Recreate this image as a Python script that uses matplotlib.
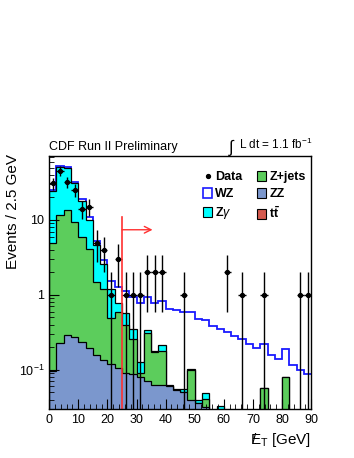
import numpy as np
import matplotlib.pyplot as plt
from matplotlib.patches import Patch
from matplotlib.lines import Line2D
from matplotlib.ticker import FixedLocator, FuncFormatter, MultipleLocator, LogLocator

plt.rcParams['font.family'] = ['Liberation Sans', 'DejaVu Sans']
plt.rcParams['mathtext.fontset'] = 'custom'
plt.rcParams['mathtext.rm'] = 'Liberation Sans'
plt.rcParams['mathtext.it'] = 'Liberation Sans:italic'
plt.rcParams['mathtext.bf'] = 'Liberation Sans:bold'

# missing ET, 2.5 GeV bins from 0 to 90
edges = np.arange(0, 92.5, 2.5)
data = [31, 45, 32, 25, 14, 15, 5, 4, 1, 3, 1, 1, 1, 2, 2, 2, 0, 0,
        1, 0, 0, 0, 0, 0, 2, 0, 1, 0, 0, 1, 0, 0, 0, 0, 1, 1]
zz = [0.097, 0.227, 0.293, 0.275, 0.234, 0.195, 0.158, 0.136, 0.119, 0.105,
      0.092, 0.089, 0.079, 0.071, 0.063, 0.063, 0.060, 0.054, 0.051, 0.039,
      0.036, 0.032, 0.027, 0.025, 0.020, 0.018, 0.015, 0.012, 0.010, 0.0,
      0.0, 0.0, 0.0, 0.0, 0.0, 0.0]
zjets = [4.90, 11.37, 13.3, 9.2, 5.77, 3.9, 1.34, 1.06, 0.37, 0.495,
         0.308, 0.167, 0.013, 0.239, 0.112, 0.117, 0.001, 0.0, 0.0, 0.061,
         0.0, 0.009, 0.0, 0.0, 0.0, 0.0, 0.0, 0.0, 0.0, 0.057,
         0.0, 0.0, 0.081, 0.0, 0.0, 0.0]
zgamma = [19.0, 39.4, 35.9, 22.0, 12.0, 5.9, 3.1, 1.4, 0.71, 0.19,
          0.18, 0.094, 0.037, 0.03, 0.005, 0.035, 0.001, 0.001, 0.005, 0.001,
          0.004, 0.008, 0.0, 0.008, 0.0, 0.0, 0.0, 0.0, 0.0, 0.0,
          0.0, 0.0, 0.0, 0.0, 0.0, 0.0]
wz = [1.0, 2.0, 1.5, 1.0, 1.0, 0.8, 0.6, 0.3, 0.35, 0.49,
      0.55, 0.60, 0.65, 0.60, 0.61, 0.605, 0.588, 0.565, 0.544, 0.489,
      0.44, 0.411, 0.363, 0.322, 0.30, 0.266, 0.242, 0.21, 0.185, 0.161,
      0.16, 0.141, 0.109, 0.115, 0.098, 0.087]
ttbar = [0.0] * 36

cut = 25.0
c_zjets = '#5ccd5c'
c_zz = '#7b97cd'
c_zg = '#00ffff'
c_tt = '#d55a4f'
c_wz = '#1a1aff'

fig = plt.figure(figsize=(3.54, 4.58), dpi=100)
ax = fig.add_axes([0.139, 0.107, 0.740, 0.552])

ymin, ymax = 0.03, 71
floor = 1e-4
s1 = np.array(zz)
s2 = s1 + np.array(zjets)
s3 = s2 + np.array(zgamma)
s4 = s3 + np.array(wz)
s5 = s4 + np.array(ttbar)

ax.stairs(np.maximum(s4, floor), edges, baseline=floor, fill=True,
          facecolor='white', edgecolor='none')
ax.stairs(np.maximum(s4, floor), edges, baseline=None, color=c_wz, lw=1.3)
ax.stairs(np.maximum(s3, floor), edges, baseline=floor, fill=True,
          facecolor=c_zg, edgecolor='none')
ax.stairs(np.maximum(s3, floor), edges, baseline=floor, color='black', lw=0.9)
ax.stairs(np.maximum(s2, floor), edges, baseline=floor, fill=True,
          facecolor=c_zjets, edgecolor='none')
ax.stairs(np.maximum(s2, floor), edges, baseline=floor, color='black', lw=0.9)
ax.stairs(np.maximum(s1, floor), edges, baseline=floor, fill=True,
          facecolor=c_zz, edgecolor='none')
ax.stairs(np.maximum(s1, floor), edges, baseline=floor, color='black', lw=0.9)

# data points
centers = 0.5 * (edges[:-1] + edges[1:])
d = np.array(data, dtype=float)
m = d > 0
err = np.sqrt(d[m])
lo = d[m] - np.maximum(d[m] - err, floor)
ax.errorbar(centers[m], d[m], yerr=[lo, err], xerr=1.25, fmt='o', ms=2.8,
            color='black', ecolor='black', elinewidth=1.0, capsize=0, zorder=5)

# cut line and arrow
ax.plot([cut, cut], [floor, 10.9], color='#ff3030', lw=1.2, zorder=6)
ax.annotate('', xy=(35.5, 7.4), xytext=(cut, 7.4),
            arrowprops=dict(arrowstyle='->', color='#ff3030', lw=1.0,
                            shrinkA=0, shrinkB=0, mutation_scale=12), zorder=6)

ax.set_yscale('log')
ax.set_xlim(0, 90)
ax.set_ylim(ymin, ymax)
ax.xaxis.set_major_locator(MultipleLocator(10))
ax.xaxis.set_minor_locator(MultipleLocator(2))
ax.yaxis.set_major_locator(FixedLocator([0.1, 1, 10]))
ax.yaxis.set_minor_locator(LogLocator(base=10, subs=np.arange(2, 10)))
ax.yaxis.set_minor_formatter(FuncFormatter(lambda v, p: ''))
ylab = {0.1: r'$10^{-1}$', 1: '1', 10: '10'}
ax.yaxis.set_major_formatter(FuncFormatter(lambda v, p: ylab.get(round(v, 3), '')))
ax.tick_params(which='both', direction='in', top=False, right=False, labelsize=9)
ax.tick_params(which='major', length=7)
ax.tick_params(which='minor', length=3.5)
for sp in ax.spines.values():
    sp.set_linewidth(1.0)
    sp.set_zorder(10)

ax.set_ylabel('Events / 2.5 GeV', fontsize=11)
ax.yaxis.set_label_coords(-0.11, 0.78)
ax.set_xlabel(r'$\mathrm{/\!\!\!E_{T}}$ [GeV]', fontsize=11, loc='right', labelpad=4)

fig.text(0.139, 0.666, 'CDF Run II Preliminary', fontsize=9, ha='left', va='bottom')
fig.text(0.882, 0.668, r'L dt = 1.1 fb$^{-1}$', fontsize=8.5, ha='right', va='bottom')
fig.text(0.657, 0.655, r'$\int$', fontsize=12, ha='center', va='bottom')

handles = [
    Line2D([], [], marker='o', ls='none', color='black', ms=2.8),
    Patch(facecolor='white', edgecolor=c_wz, lw=1.2),
    Patch(facecolor=c_zg, edgecolor='black', lw=0.8),
    Patch(facecolor=c_zjets, edgecolor='black', lw=0.8),
    Patch(facecolor=c_zz, edgecolor='black', lw=0.8),
    Patch(facecolor=c_tt, edgecolor='black', lw=0.8),
]
labels = ['Data', 'WZ', r'Z$\gamma$', 'Z+jets', 'ZZ', r'$\mathbf{t\bar{t}}$']
leg = ax.legend(handles, labels, ncol=2, loc='upper left',
                bbox_to_anchor=(0.555, 0.975), frameon=False,
                prop={'size': 9, 'weight': 'bold'}, handlelength=0.7,
                handleheight=0.8, handletextpad=0.25, labelspacing=0.4,
                columnspacing=1.2, borderpad=0.2)

fig.savefig('out.png', dpi=100)
